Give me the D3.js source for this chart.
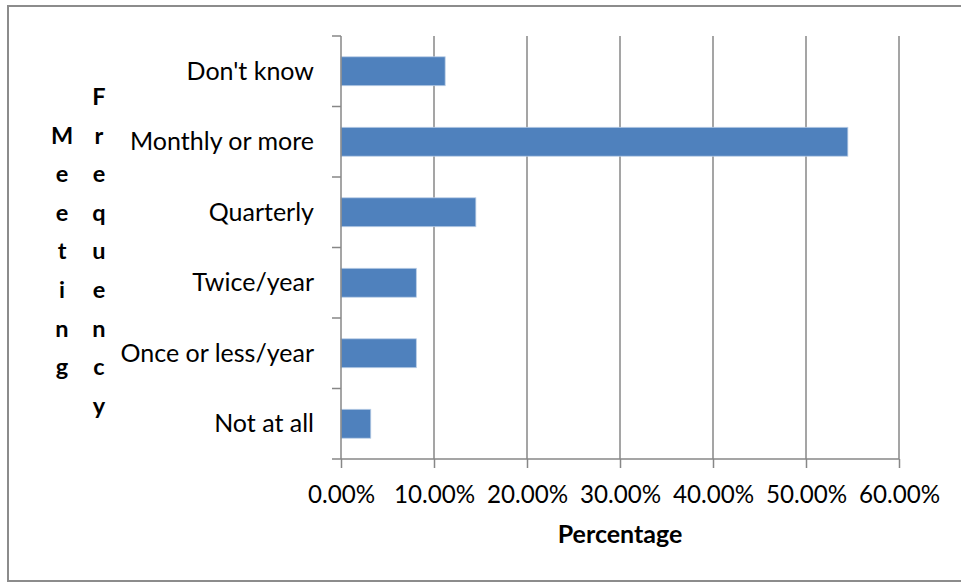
<!DOCTYPE html>
<html>
<head>
<meta charset="utf-8">
<script src="https://cdn.jsdelivr.net/npm/d3@7"></script>
<style>
  html, body { margin: 0; padding: 0; background: #fff; overflow: hidden; }
  svg { display: block; font-family: Lato, "Open Sans", sans-serif; }
</style>
</head>
<body>
<svg id="chart" width="961" height="582"></svg>
<script>
// Meeting frequency categories, top to bottom
const categories = ["Don't know", "Monthly or more", "Quarterly", "Twice/year", "Once or less/year", "Not at all"];
// Share of respondents (fraction) for each category
const values = [0.112, 0.545, 0.145, 0.081, 0.081, 0.032];
// Value axis ticks
const xTicks = [0, 0.1, 0.2, 0.3, 0.4, 0.5, 0.6];
const yTitleWords = ["Meeting", "Frequency"];
const xTitle = "Percentage";

const svg = d3.select("#chart");
const plotL = 341, plotR = 899, plotT = 36, plotB = 459;
const gridColor = "#878787";

// outer frame (top, left and bottom edges; the right edge runs past the canvas)
svg.append("path")
  .attr("d", "M 970 6 H 8 V 581 H 970")
  .attr("fill", "none").attr("stroke", "#8c8c8c").attr("stroke-width", 2);

const x = d3.scaleLinear().domain([0, 0.6]).range([plotL, plotR]);
const y = d3.scaleBand().domain(categories).range([plotT, plotB]).paddingInner(0.59).paddingOuter(0.295);
const yEdges = d3.scaleBand().domain(categories).range([plotT, plotB]);

// vertical gridlines
svg.append("g").selectAll("line")
  .data(xTicks.slice(1))
  .join("line")
  .attr("x1", d => x(d)).attr("x2", d => x(d))
  .attr("y1", plotT).attr("y2", plotB)
  .attr("stroke", gridColor).attr("stroke-width", 1.5);

// bars
svg.append("g").selectAll("rect")
  .data(categories)
  .join("rect")
  .attr("x", x(0))
  .attr("y", d => y(d))
  .attr("width", (d, i) => x(values[i]) - x(0))
  .attr("height", y.bandwidth())
  .attr("fill", "#4f81bd")
  .attr("stroke", "#b9cde5").attr("stroke-width", 0.8);

// x axis
const xAxis = d3.axisBottom(x)
  .tickValues(xTicks)
  .tickFormat(d => (d * 100).toFixed(2) + "%")
  .tickSize(9).tickSizeOuter(0).tickPadding(18);
const gx = svg.append("g").attr("transform", `translate(0,${plotB})`).call(xAxis);
gx.select(".domain").remove();
gx.append("line").attr("x1", plotL - 9).attr("x2", plotR).attr("y1", 0).attr("y2", 0)
  .attr("stroke", gridColor).attr("stroke-width", 1.5);
gx.selectAll(".tick line").attr("stroke", gridColor).attr("stroke-width", 1.5);
gx.selectAll(".tick text")
  .attr("fill", "#000").attr("font-size", 24.2).attr("font-family", "Lato, sans-serif");

// y axis: line, boundary ticks and category labels
const gy = svg.append("g");
gy.append("line").attr("x1", plotL).attr("x2", plotL).attr("y1", plotT).attr("y2", plotB)
  .attr("stroke", gridColor).attr("stroke-width", 1.5);
gy.selectAll("line.btick")
  .data(categories)
  .join("line").attr("class", "btick")
  .attr("x1", plotL - 9).attr("x2", plotL)
  .attr("y1", d => yEdges(d)).attr("y2", d => yEdges(d))
  .attr("stroke", gridColor).attr("stroke-width", 1.5);
gy.selectAll("text")
  .data(categories)
  .join("text")
  .attr("x", plotL - 27)
  .attr("y", d => y(d) + y.bandwidth() / 2)
  .attr("dy", "0.34em")
  .attr("text-anchor", "end")
  .attr("font-size", 25)
  .attr("fill", "#000")
  .text(d => d);

// x axis title
svg.append("text")
  .attr("x", (plotL + plotR) / 2).attr("y", 543)
  .attr("text-anchor", "middle")
  .attr("font-size", 25).attr("font-weight", "bold")
  .attr("fill", "#000")
  .text(xTitle);

// y axis title, one letter per line
const lineH = 38.6;
const colX = [62, 99];
const maxLen = d3.max(yTitleWords, w => w.length);
yTitleWords.forEach((w, wi) => {
  const startY = 105 + (maxLen - w.length) / 2 * lineH;
  const t = svg.append("text")
    .attr("text-anchor", "middle")
    .attr("font-size", 23.5).attr("font-weight", "bold")
    .attr("fill", "#000");
  t.selectAll("tspan")
    .data(w.split(""))
    .join("tspan")
    .attr("x", colX[wi])
    .attr("y", (d, i) => startY + i * lineH)
    .text(d => d);
});
</script>
</body>
</html>
